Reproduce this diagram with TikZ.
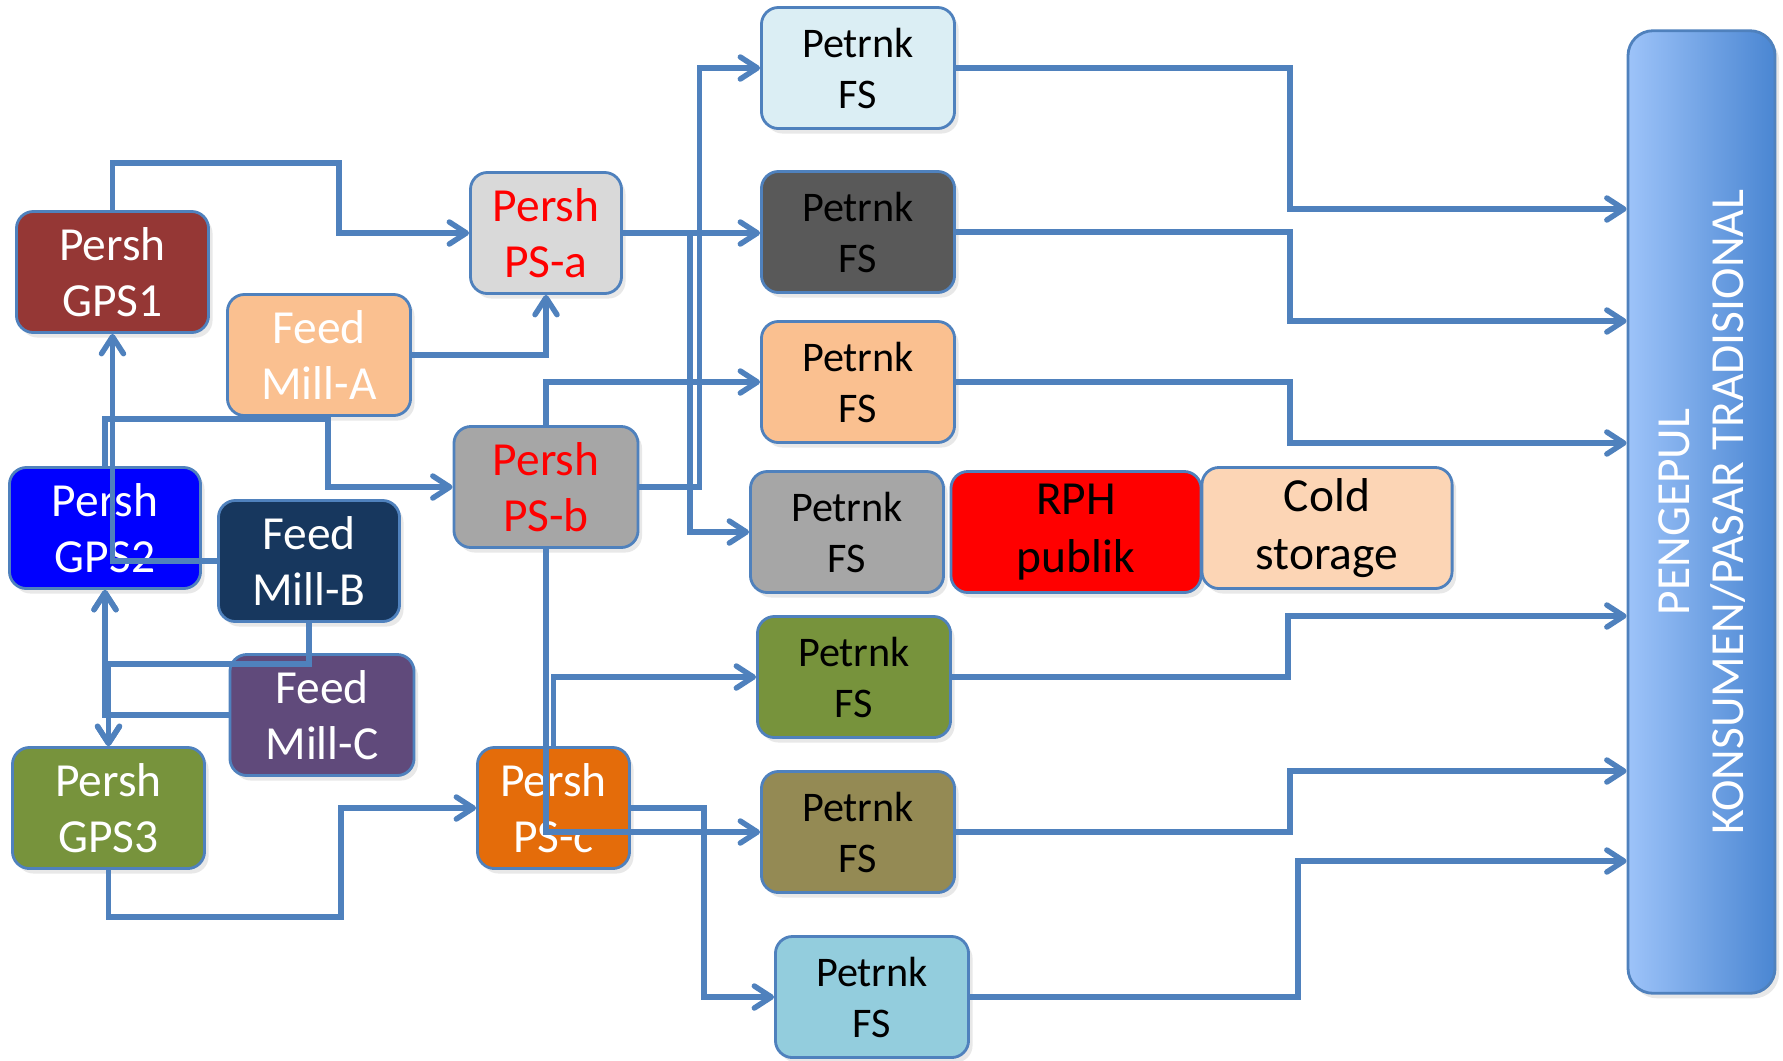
\documentclass[tikz,border=0pt]{standalone}
\usepackage{fontspec}
\setmainfont{Carlito}
\usetikzlibrary{arrows.meta,shadows}

\definecolor{linkblue}{HTML}{4F81BD}
\definecolor{gpsred}{HTML}{953735}
\definecolor{gpsblue}{HTML}{0000FF}
\definecolor{gpsgreen}{HTML}{77933C}
\definecolor{millorange}{HTML}{FAC090}
\definecolor{millnavy}{HTML}{17375E}
\definecolor{millpurple}{HTML}{604A7B}
\definecolor{pslight}{HTML}{D9D9D9}
\definecolor{psgray}{HTML}{A6A6A6}
\definecolor{psorange}{HTML}{E46C0A}
\definecolor{fsice}{HTML}{DBEEF4}
\definecolor{fsdark}{HTML}{595959}
\definecolor{fsolive}{HTML}{948A54}
\definecolor{fsaqua}{HTML}{93CDDD}
\definecolor{rphred}{HTML}{FF0000}
\definecolor{coldpeach}{HTML}{FCD5B5}
\definecolor{barlight}{HTML}{9DC3F9}
\definecolor{barmid}{HTML}{8AB5EF}
\definecolor{bardark}{HTML}{4A86D2}

\tikzset{
	box/.style={draw=linkblue, line width=0.8pt, rounded corners=0.17cm, align=center,
		inner sep=0pt, minimum height=1.21cm,
		drop shadow={opacity=0.18, shadow xshift=0.04cm, shadow yshift=-0.05cm},
		font=\fontsize{13.5}{16}\selectfont},
	persh/.style={box, minimum width=1.92cm},
	mill/.style={box, minimum width=1.83cm, text=white},
	petrnk/.style={box, minimum width=1.93cm, font=\fontsize{12}{14.5}\selectfont},
	wide/.style={box, minimum width=2.50cm, font=\fontsize{13.5}{16.5}\selectfont},
	link/.style={linkblue, line width=1.55pt, -{Straight Barb[length=0.17cm, width=0.22cm, round]}}
}

\begin{document}
\begin{tikzpicture}[x=0.01cm, y=-0.01cm]
	\useasboundingbox (0,0) rectangle (1783,1060);

	% breeding farms and feed mills
	\node[persh, fill=gpsred, text=white] (gps1) at (112.5,272) {Persh\\GPS1};
	\node[persh, fill=gpsblue, text=white, minimum width=1.91cm] (gps2) at (105,528) {Persh\\GPS2};
	\node[persh, fill=gpsgreen, text=white] (gps3) at (108.5,808) {Persh\\GPS3};
	\node[mill, fill=millorange] (fmA) at (319,355) {Feed\\Mill-A};
	\node[mill, fill=millnavy, minimum width=1.81cm] (fmB) at (309,561) {Feed\\Mill-B};
	\node[mill, fill=millpurple, minimum width=1.84cm] (fmC) at (322,715) {Feed\\Mill-C};
	\node[persh, fill=pslight, text=red, minimum width=1.51cm] (psa) at (546,233) {Persh\\PS-a};
	\node[persh, fill=psgray, text=red, minimum width=1.84cm] (psb) at (546,487) {Persh\\PS-b};
	\node[persh, fill=psorange, text=white, minimum width=1.52cm] (psc) at (553.5,808) {Persh\\PS-c};

	% farms
	\node[petrnk, fill=fsice] (fs1) at (858,68) {Petrnk\\FS};
	\node[petrnk, fill=fsdark] (fs2) at (858,232) {Petrnk\\FS};
	\node[petrnk, fill=millorange] (fs3) at (858,382) {Petrnk\\FS};
	\node[petrnk, fill=psgray] (fs4) at (847,532) {Petrnk\\FS};
	\node[wide, fill=rphred] (rph) at (1076,532) {RPH\\publik};
	\node[wide, fill=coldpeach] (cold) at (1327,528) {Cold\\storage};
	\node[petrnk, fill=gpsgreen] (fs5) at (854,677) {Petrnk\\FS};
	\node[petrnk, fill=fsolive] (fs6) at (858,832) {Petrnk\\FS};
	\node[petrnk, fill=fsaqua] (fs7) at (872,997) {Petrnk\\FS};

	% market
	\node[draw=linkblue, line width=0.8pt, rounded corners=0.25cm, minimum width=1.47cm,
		minimum height=9.62cm, left color=barlight, middle color=barmid, right color=bardark,
		drop shadow={opacity=0.18, shadow xshift=0.04cm, shadow yshift=-0.05cm}]
		(bar) at (1701.5,512) {};
	\node[rotate=90, text=white, align=center, font=\fontsize{13.5}{15.5}\selectfont]
		(barlabel) at (1702,512) {PENGEPUL\\KONSUMEN/PASAR TRADISIONAL};

	% flows
	\draw[link] (gps1.north) |- (339,163) |- (psa.west);
	\draw[link] (fmA.east) -| (psa.south);
	\draw[link] (fmB.west) -| (gps1.south);
	\draw[link] (gps2.north) |- (328,419) |- (psb.west);
	\draw[link] (fmB.south) -- ++(0,41) -| (gps2.south);
	\draw[link] (fmB.south) -- ++(0,41) -| (gps3.north);
	\draw[link] (fmC.west) -| (gps2.south);
	\draw[link] (fmC.west) -| (gps3.north);
	\draw[link] (gps3.south) |- (341,917) |- (psc.west);

	\draw[link] (psa.east) -- (psa.east -| fs2.west);
	\draw[link] (psa.east) -- ++(67,0) |- (fs4.west);
	\draw[link] (psb.east) -- ++(60,0) |- (fs1.west);
	\draw[link] (psb.north) |- (fs3.west);
	\draw[link] (psb.south) |- (fs6.west);
	\draw[link] (psc.north) |- (fs5.west);
	\draw[link] (psc.east) -- ++(73,0) |- (fs7.west);

	\foreach \fs/\xm/\yin in {fs1/1290/209, fs2/1290/321, fs3/1290/443,
		fs5/1288/616, fs6/1290/771, fs7/1298/861}
		\draw[link] (\fs.east) -| (\xm,\yin) -- (bar.west |- \xm,\yin);
\end{tikzpicture}
\end{document}
